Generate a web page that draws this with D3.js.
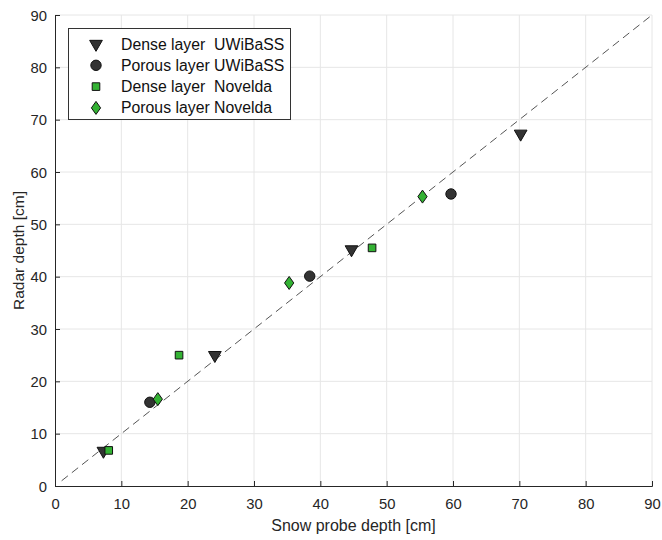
<!DOCTYPE html>
<html>
<head>
<meta charset="utf-8">
<script src="https://cdn.jsdelivr.net/npm/d3@7"></script>
<style>
  html, body { margin: 0; padding: 0; background: #fff; }
  svg { display: block; font-family: "Liberation Sans", Arial, Helvetica, sans-serif; }
</style>
</head>
<body>
<svg id="chart" width="662" height="540"></svg>
<script>
// Snow probe depth vs radar depth (cm), per layer and radar
const denseUWiBaSS  = [[7.3, 6.7], [24.1, 25.0], [44.7, 45.2], [70.2, 67.3]];
const porousUWiBaSS = [[14.3, 16.0], [38.4, 40.1], [59.7, 55.8]];
const denseNovelda  = [[8.1, 6.8], [18.7, 25.0], [47.8, 45.5]];
const porousNovelda = [[15.5, 16.6], [35.3, 38.8], [55.4, 55.3]];

const seriesNames = ["Dense layer  UWiBaSS", "Porous layer UWiBaSS", "Dense layer  Novelda", "Porous layer Novelda"];
const xTicks = [0, 10, 20, 30, 40, 50, 60, 70, 80, 90];
const yTicks = [0, 10, 20, 30, 40, 50, 60, 70, 80, 90];
const oneToOne = [[1, 1], [90, 90]];

const svg = d3.select("#chart");
const margin = { left: 55, right: 10, top: 15, bottom: 54 };
const W = 662, H = 540;

const x = d3.scaleLinear().domain([0, 90]).range([margin.left, W - margin.right]);
const y = d3.scaleLinear().domain([0, 90]).range([H - margin.bottom, margin.top]);

const gray = "#262626";
const darkFill = "#333333";
const green = "#33b233";

// grid
const grid = svg.append("g").attr("stroke", "#e6e6e6").attr("stroke-width", 1);
grid.selectAll(".gx").data(xTicks.slice(1)).join("line")
  .attr("x1", d => x(d)).attr("x2", d => x(d))
  .attr("y1", y(0)).attr("y2", y(90));
grid.selectAll(".gy").data(yTicks.slice(1)).join("line")
  .attr("x1", x(0)).attr("x2", x(90))
  .attr("y1", d => y(d)).attr("y2", d => y(d));

// axes with inward ticks
const xAxis = d3.axisBottom(x).tickValues(xTicks).tickSize(-5).tickPadding(12).tickFormat(d3.format("d"));
const yAxis = d3.axisLeft(y).tickValues(yTicks).tickSize(-5).tickPadding(8).tickFormat(d3.format("d"));

const gx = svg.append("g").attr("transform", `translate(0,${y(0)})`).call(xAxis);
const gy = svg.append("g").attr("transform", `translate(${x(0)},0)`).call(yAxis);
[gx, gy].forEach(g => {
  g.select(".domain").attr("stroke", gray).attr("stroke-width", 1);
  g.selectAll(".tick line").attr("stroke", gray);
  g.selectAll(".tick text").attr("fill", gray).attr("font-size", 14.8)
    .attr("font-family", "'Liberation Sans', Arial, sans-serif");
});
gy.selectAll(".tick text").attr("dy", "0.35em");

// 1:1 line
svg.append("line")
  .attr("x1", x(oneToOne[0][0])).attr("y1", y(oneToOne[0][1]))
  .attr("x2", x(oneToOne[1][0])).attr("y2", y(oneToOne[1][1]))
  .attr("stroke", "#555").attr("stroke-width", 1)
  .attr("stroke-dasharray", "8,5");

// marker shapes
const diamondPath = "M0,-6.5L4.6,0L0,6.5L-4.6,0Z";
const markers = {
  tri: d3.symbol().type(d3.symbolTriangle).size(70)(),
  circ: d3.symbol().type(d3.symbolCircle).size(85)(),
  sq: d3.symbol().type(d3.symbolSquare).size(58)(),
  diam: diamondPath
};

const series = [
  { data: denseUWiBaSS, shape: "tri", fill: darkFill, rot: 180 },
  { data: porousUWiBaSS, shape: "circ", fill: darkFill, rot: 0 },
  { data: denseNovelda, shape: "sq", fill: green, rot: 0 },
  { data: porousNovelda, shape: "diam", fill: green, rot: 0 }
];

function drawMarker(g, s, cx, cy) {
  g.append("path")
    .attr("d", markers[s.shape])
    .attr("transform", `translate(${cx},${cy}) rotate(${s.rot})`)
    .attr("fill", s.fill)
    .attr("stroke", "#111")
    .attr("stroke-width", 1);
}

const pts = svg.append("g");
series.forEach(s => {
  s.data.forEach(d => drawMarker(pts, s, x(d[0]), y(d[1])));
});

// legend
const lg = svg.append("g");
lg.append("rect")
  .attr("x", 68.5).attr("y", 28.5).attr("width", 222).attr("height", 91)
  .attr("fill", "#fff").attr("stroke", "#333").attr("stroke-width", 1);
series.forEach((s, i) => {
  const cy = 44 + i * 21.3;
  drawMarker(lg, s, 96, cy);
  lg.append("text")
    .attr("x", 121).attr("y", cy).attr("dy", "0.35em")
    .attr("font-size", 15.8).attr("fill", "#111")
    .attr("xml:space", "preserve")
    .style("white-space", "pre")
    .text(seriesNames[i]);
});

// axis labels
svg.append("text")
  .attr("x", x(45)).attr("y", 531)
  .attr("text-anchor", "middle").attr("font-size", 16).attr("fill", gray)
  .text("Snow probe depth [cm]");
svg.append("text")
  .attr("transform", `translate(24,${y(45)}) rotate(-90)`)
  .attr("text-anchor", "middle").attr("font-size", 15.5).attr("fill", gray)
  .text("Radar depth [cm]");
</script>
</body>
</html>
